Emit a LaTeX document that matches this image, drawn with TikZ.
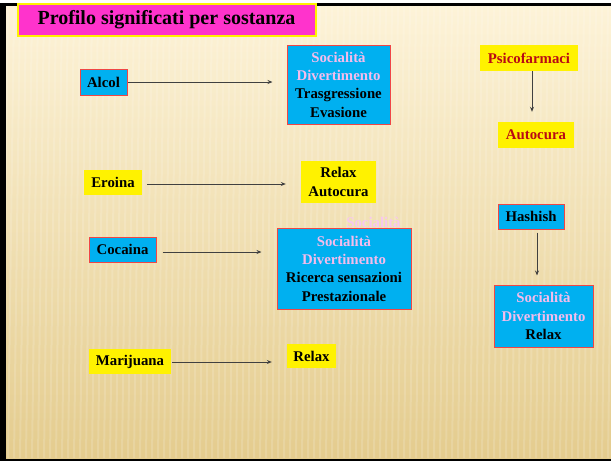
\documentclass[tikz,border=0pt]{standalone}
\usepackage{fontspec}
\setmainfont{Liberation Serif}
\usetikzlibrary{arrows.meta}
\definecolor{cyanc}{RGB}{0,176,240}
\definecolor{redc}{RGB}{240,70,70}
\definecolor{pinkt}{RGB}{245,188,236}
\definecolor{paleP}{RGB}{248,200,238}
\definecolor{darkred}{RGB}{185,10,20}
\definecolor{magt}{RGB}{255,51,204}
\definecolor{bgtop}{RGB}{253,243,216}
\definecolor{bgmid}{RGB}{246,228,182}
\definecolor{bgbot}{RGB}{228,204,142}
\tikzset{
  lbl/.style={font=\bfseries\fontsize{14.8}{18.3}\selectfont, inner sep=0pt, align=center},
  cyanbox/.style={lbl, fill=cyanc, draw=redc, line width=1pt},
  yelbox/.style={lbl, fill=yellow},
  arr/.style={draw=black!75, line width=0.8pt, -{Stealth[length=5pt,width=4pt]}},
}
\begin{document}
\begin{tikzpicture}[x=1pt,y=-1pt]
\useasboundingbox (0,0) rectangle (611,461);
\fill[white] (0,0) rectangle (611,461);
\fill[black] (0,3) rectangle (611,461);
\shade[top color=bgtop, middle color=bgmid, bottom color=bgbot] (6,6) rectangle (611,458);
\begin{scope}
\clip (6,6) rectangle (611,458);
\foreach \x in {8,14,...,620} \draw[white, opacity=0.15, line width=2pt] (\x,6) -- (\x-6,458);
\end{scope}
% title
\node[lbl, fill=magt, draw=yellow, line width=2pt, minimum width=298pt, minimum height=32pt, font=\bfseries\fontsize{20}{24}\selectfont] (title) at (166.5,19.5) {Profilo significati per sostanza};
% left column
\node[cyanbox, minimum width=47pt, minimum height=26pt] (alcol) at (103.5,82) {Alcol};
\node[cyanbox, minimum width=103pt, minimum height=79pt] (b1) at (338.5,84.5) {\textcolor{pinkt}{Socialità}\\\textcolor{pinkt}{Divertimento}\\Trasgressione\\Evasione};
\node[yelbox, minimum width=58pt, minimum height=25pt] (eroina) at (113,182.5) {Eroina};
\node[yelbox, minimum width=75pt, minimum height=42pt] (ra) at (338.5,182) {Relax\\Autocura};
\node[lbl, text=paleP] (stray) at (373.5,222) {Socialità};
\node[cyanbox, minimum width=134pt, minimum height=81pt] (b2) at (344,268.5) {\textcolor{pinkt}{Socialità}\\\textcolor{pinkt}{Divertimento}\\Ricerca sensazioni\\Prestazionale};
\node[cyanbox, minimum width=67pt, minimum height=25pt] (cocaina) at (122.5,249.5) {Cocaina};
\node[yelbox, minimum width=82pt, minimum height=25pt] (marij) at (130,361.5) {Marijuana};
\node[yelbox, minimum width=49pt, minimum height=24pt] (relax) at (311.5,356) {Relax};
% right column
\node[yelbox, text=darkred, minimum width=98pt, minimum height=26pt] (psico) at (529,58) {Psicofarmaci};
\node[yelbox, text=darkred, minimum width=76pt, minimum height=26pt] (auto) at (536,135) {Autocura};
\node[cyanbox, minimum width=66pt, minimum height=25pt] (hash) at (531,216.5) {Hashish};
\node[cyanbox, minimum width=99pt, minimum height=62pt] (b3) at (543.5,316) {\textcolor{pinkt}{Socialità}\\\textcolor{pinkt}{Divertimento}\\Relax};
% arrows
\draw[arr, shorten >=14pt] (alcol.east) -- (alcol.east -| b1.west);
\draw[arr, shorten <=5pt, shorten >=15pt] ([yshift=-1.5pt]eroina.east) -- ([yshift=-1.5pt]eroina.east -| ra.west);
\draw[arr, shorten <=6pt, shorten >=15pt] ([yshift=-2.5pt]cocaina.east) -- ([yshift=-2.5pt]cocaina.east -| b2.west);
\draw[arr, shorten <=1pt, shorten >=15pt] ([yshift=-0.5pt]marij.east) -- ([yshift=-0.5pt]marij.east -| relax.west);
\draw[arr, shorten >=10pt] ([xshift=3pt]psico.south) -- ([xshift=3pt]psico.south |- auto.north);
\draw[arr, shorten <=3pt, shorten >=9pt] ([xshift=6pt]hash.south) -- ([xshift=6pt]hash.south |- b3.north);
\end{tikzpicture}
\end{document}
